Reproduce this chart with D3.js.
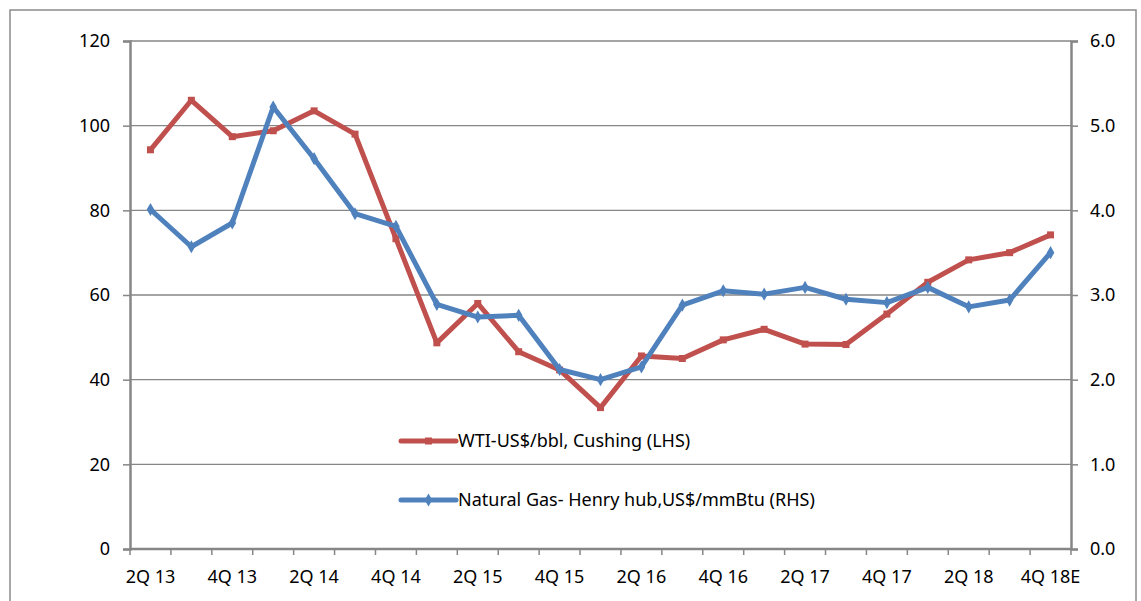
<!DOCTYPE html>
<html><head><meta charset="utf-8">
<script src="https://cdn.jsdelivr.net/npm/d3@7"></script>
<style>
html,body{margin:0;padding:0;background:#fff;}
svg{display:block;}
text{font-family:"Noto Sans",sans-serif;fill:#000;}
</style></head>
<body>
<svg id="chart" width="1141" height="601"></svg>
<script>
const categories = ["2Q 13","3Q 13","4Q 13","1Q 14","2Q 14","3Q 14","4Q 14","1Q 15","2Q 15","3Q 15","4Q 15","1Q 16","2Q 16","3Q 16","4Q 16","1Q 17","2Q 17","3Q 17","4Q 17","1Q 18","2Q 18","3Q 18","4Q 18E"];
const wti = [94.3,106,97.4,98.8,103.5,98,73.3,48.7,58,46.6,42.3,33.4,45.6,45,49.4,51.9,48.4,48.3,55.5,63,68.3,70,74.2];
const gas = [4.01,3.57,3.85,5.22,4.61,3.96,3.81,2.89,2.74,2.76,2.12,2.0,2.15,2.88,3.05,3.01,3.09,2.95,2.91,3.09,2.86,2.94,3.5];
const leftTicks = [0,20,40,60,80,100,120];
const rightTicks = [0,1,2,3,4,5,6];
const seriesNames = ["WTI-US$/bbl, Cushing (LHS)","Natural Gas- Henry hub,US$/mmBtu (RHS)"];

const svg = d3.select("#chart");
const L = 130, R = 1071, T = 41, B = 549;
const red = "#C0504D", blue = "#4F81BD", axisCol = "#868686";
const FF = "'Noto Sans', sans-serif";

// measure font size so the legend text spans ~239px like the reference
const probe = svg.append("text").attr("font-size",16).attr("font-family",FF).text(seriesNames[0]);
const w16 = probe.node().getComputedTextLength();
probe.remove();
const FS = Math.max(12, Math.min(18, 16 * 239 / w16));

// outer border
svg.append("path").attr("d","M10,601 V10 H1136 V601").attr("fill","none").attr("stroke","#8c8c8c").attr("stroke-width",1.5);

const x = d3.scaleBand().domain(categories).range([L,R]).paddingInner(0).paddingOuter(0);
const yL = d3.scaleLinear().domain([0,120]).range([B,T]);
const yR = d3.scaleLinear().domain([0,6]).range([B,T]);
const cx = d => x(d) + x.bandwidth()/2;

// gridlines
svg.append("g").selectAll("line").data(leftTicks.filter(d=>d>0)).join("line")
  .attr("x1",L).attr("x2",R).attr("y1",d=>yL(d)).attr("y2",d=>yL(d))
  .attr("stroke",axisCol).attr("stroke-width",1.3);

// left axis
const gl = svg.append("g").attr("transform",`translate(${L},0)`)
  .call(d3.axisLeft(yL).tickValues(leftTicks).tickSize(7).tickPadding(13).tickFormat(d3.format("d")));
// right axis
const gr = svg.append("g").attr("transform",`translate(${R},0)`)
  .call(d3.axisRight(yR).tickValues(rightTicks).tickSize(7).tickPadding(12).tickFormat(d3.format(".1f")));
// bottom axis
const boundaries = d3.range(categories.length+1).map(i => L + i*x.bandwidth());
const gb = svg.append("g").attr("transform",`translate(0,${B})`);
gb.append("line").attr("x1",L).attr("x2",R).attr("stroke",axisCol).attr("stroke-width",2.5);
gb.selectAll("line.tk").data(boundaries).join("line").attr("class","tk")
  .attr("x1",d=>d).attr("x2",d=>d).attr("y1",0).attr("y2",6).attr("stroke",axisCol).attr("stroke-width",1.5);
gb.selectAll("text").data(categories.filter((d,i)=>i%2===0)).join("text")
  .attr("x",d=>cx(d)).attr("y",34).attr("text-anchor","middle").attr("font-size",FS).text(d=>d);

[gl,gr].forEach(g=>{
  g.select(".domain").attr("stroke",axisCol).attr("stroke-width",2.5);
  g.selectAll(".tick line").attr("stroke",axisCol).attr("stroke-width",1.5);
  g.selectAll(".tick text").attr("font-size",FS).attr("font-family",FF).attr("fill","#000");
});

// lines
const lineL = d3.line().x((d,i)=>cx(categories[i])).y(d=>yL(d));
const lineR = d3.line().x((d,i)=>cx(categories[i])).y(d=>yR(d));
svg.append("path").datum(wti).attr("d",lineL).attr("fill","none").attr("stroke",red).attr("stroke-width",5).attr("stroke-linejoin","round");
svg.append("g").selectAll("rect").data(wti).join("rect")
  .attr("x",(d,i)=>cx(categories[i])-3.5).attr("y",d=>yL(d)-3.5).attr("width",7).attr("height",7).attr("fill",red);
svg.append("path").datum(gas).attr("d",lineR).attr("fill","none").attr("stroke",blue).attr("stroke-width",5).attr("stroke-linejoin","round");
const diamond = d3.symbol().type(d3.symbolDiamond).size(50);
svg.append("g").selectAll("path").data(gas).join("path")
  .attr("transform",(d,i)=>`translate(${cx(categories[i])},${yR(d)})`).attr("d",diamond).attr("fill",blue);

// legend
const legend = [{name:seriesNames[0],color:red,sym:"square",y:441},{name:seriesNames[1],color:blue,sym:"diamond",y:500}];
const lg = svg.append("g");
legend.forEach(e=>{
  lg.append("line").attr("x1",401).attr("x2",456).attr("y1",e.y).attr("y2",e.y).attr("stroke",e.color).attr("stroke-width",5).attr("stroke-linecap","round");
  if(e.sym==="square") lg.append("rect").attr("x",425).attr("y",e.y-3.5).attr("width",7).attr("height",7).attr("fill",e.color);
  else lg.append("path").attr("transform",`translate(428.5,${e.y})`).attr("d",diamond).attr("fill",e.color);
  lg.append("text").attr("x",458).attr("y",e.y).attr("dy","0.35em").attr("font-size",FS).attr("font-family",FF).text(e.name);
});
</script>
</body></html>
